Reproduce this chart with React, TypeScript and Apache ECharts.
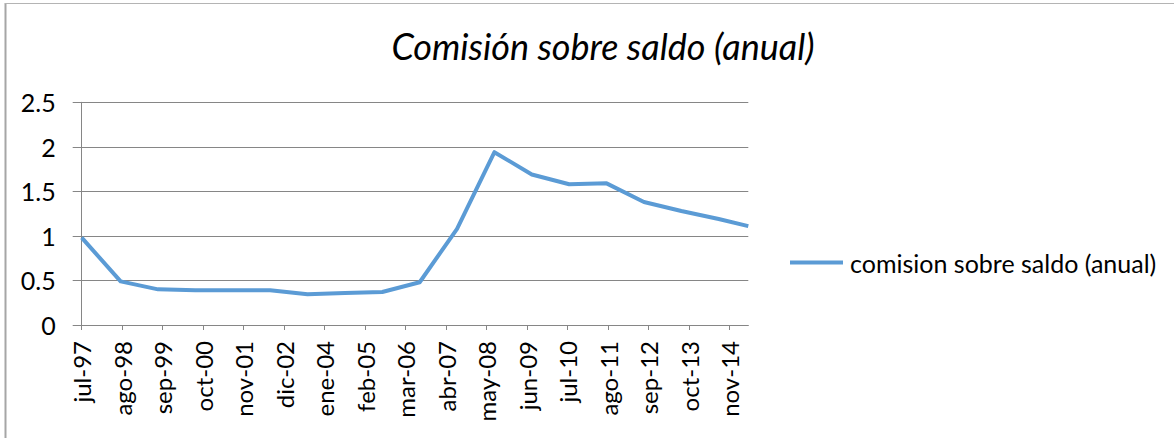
import React, { useEffect, useRef } from "react";
import * as echarts from "echarts";

const titleText = "Comisión sobre saldo (anual)";
const seriesName = "comision sobre saldo (anual)";

// observation dates (year-month-day)
const obsDates = [
  "1997-07-01", "1998-07-16", "1999-07-16", "2000-07-16", "2001-07-16",
  "2002-07-16", "2003-07-16", "2004-07-16", "2005-07-16", "2006-07-16",
  "2007-07-16", "2008-07-16", "2009-07-16", "2010-07-16", "2011-07-16",
  "2012-07-16", "2013-07-16", "2014-07-16", "2015-05-01",
];
const obsValues = [
  0.98, 0.49, 0.40, 0.39, 0.39,
  0.39, 0.345, 0.36, 0.37, 0.48,
  1.08, 1.94, 1.69, 1.58, 1.59,
  1.38, 1.28, 1.19, 1.11,
];

const xTickLabels = [
  "jul-97", "ago-98", "sep-99", "oct-00", "nov-01", "dic-02", "ene-04",
  "feb-05", "mar-06", "abr-07", "may-08", "jun-09", "jul-10", "ago-11",
  "sep-12", "oct-13", "nov-14",
];
const monthsPerTick = 13;
const yTicks = [0, 0.5, 1, 1.5, 2, 2.5];

const startYear = 1997;
const startMonth = 7;
function monthIndex(d: string): number {
  const [y, m, day] = d.split("-").map(Number);
  return (y - startYear) * 12 + (m - startMonth) + (day - 1) / 30;
}

export default function App() {
  const ref = useRef<HTMLDivElement>(null);
  useEffect(() => {
    if (!ref.current) return;
    const chart = echarts.init(ref.current, undefined, { renderer: "svg" });
    const data = obsDates.map((d, i) => [monthIndex(d), obsValues[i]]);
    const tickValues = xTickLabels.map((_, i) => i * monthsPerTick);
    const xMax = monthIndex(obsDates[obsDates.length - 1]);
    const font = "Lato, 'Open Sans', sans-serif";
    chart.setOption({
      animation: false,
      backgroundColor: "#ffffff",
      textStyle: { fontFamily: font },
      title: {
        text: titleText,
        left: 598,
        top: 23,
        textAlign: "center",
        textStyle: {
          fontFamily: font,
          fontStyle: "italic",
          fontWeight: "normal",
          fontSize: 36,
          color: "#000000",
        },
      },
      legend: {
        left: 785,
        top: 245,
        icon: "rect",
        itemWidth: 53,
        itemHeight: 4,
        itemGap: 10,
        textStyle: { fontFamily: font, fontSize: 25, color: "#000000", padding: [0, 0, 0, 2] },
        data: [seriesName],
      },
      grid: { left: 81.7, right: 425.7, top: 102.3, bottom: 113 },
      xAxis: {
        type: "value",
        min: 0,
        max: xMax,
        interval: monthsPerTick,
        splitLine: { show: false },
        axisLine: { show: true, lineStyle: { color: "#868686", width: 1 } },
        axisTick: {
          show: true,
          length: 5,
          lineStyle: { color: "#868686" },
          customValues: tickValues,
        },
        axisLabel: {
          rotate: 90,
          margin: 16,
          fontSize: 24,
          fontFamily: font,
          color: "#000000",
          customValues: tickValues,
          formatter: (v: number) => xTickLabels[Math.round(v / monthsPerTick)] ?? "",
        },
      },
      yAxis: {
        type: "value",
        min: yTicks[0],
        max: yTicks[yTicks.length - 1],
        interval: 0.5,
        axisLine: { show: true, lineStyle: { color: "#868686", width: 1 } },
        axisTick: { show: true, inside: false, length: 9, lineStyle: { color: "#868686" } },
        splitLine: { show: true, lineStyle: { color: "#868686", width: 1 } },
        axisLabel: {
          margin: 26,
          fontSize: 25,
          fontFamily: font,
          color: "#000000",
        },
      },
      graphic: [
        { type: "line", shape: { x1: 5.5, y1: 3, x2: 5.5, y2: 438 }, style: { stroke: "#A6A6A6", lineWidth: 2 } },
        { type: "line", shape: { x1: 5, y1: 3.5, x2: 1174, y2: 3.5 }, style: { stroke: "#B4B4B4", lineWidth: 1 } },
      ],
      series: [
        {
          name: seriesName,
          type: "line",
          data,
          showSymbol: false,
          symbol: "none",
          lineStyle: { color: "#5B9BD5", width: 4, join: "round" },
          itemStyle: { color: "#5B9BD5" },
        },
      ],
    });
    return () => chart.dispose();
  }, []);
  return (
    <div
      ref={ref}
      style={{ position: "fixed", left: 0, top: 0, width: 1174, height: 438, background: "#fff" }}
    />
  );
}
